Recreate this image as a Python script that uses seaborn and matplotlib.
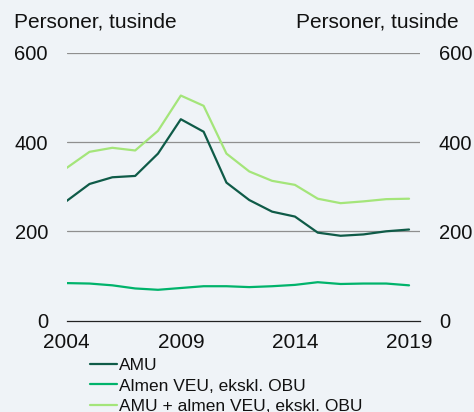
import pandas as pd
import numpy as np
import matplotlib
matplotlib.use('Agg')
import matplotlib.pyplot as plt
import seaborn as sns

years = list(range(2004, 2020))
amu = [268, 306, 321, 324, 374, 451, 423, 309, 270, 244, 233, 197, 190, 193, 200, 204]
almen_veu = [84, 83, 79, 72, 69, 73, 77, 77, 75, 77, 80, 86, 82, 83, 83, 79]
amu_plus_veu = [342, 378, 387, 381, 425, 504, 481, 374, 334, 313, 304, 273, 263, 267, 272, 273]

series_names = ['AMU', 'Almen VEU, ekskl. OBU', 'AMU + almen VEU, ekskl. OBU']
colors = ['#0f5b48', '#00b36b', '#a4e57a']
y_ticks = [0, 200, 400, 600]
x_ticks = [2004, 2009, 2014, 2019]
unit_label = 'Personer, tusinde'

df = pd.DataFrame({'year': years * 3,
                   'value': amu + almen_veu + amu_plus_veu,
                   'series': [series_names[0]] * 16 + [series_names[1]] * 16 + [series_names[2]] * 16})

bg = '#eff3f7'
sns.set_style('white')
plt.rcParams['font.family'] = ['Liberation Sans', 'DejaVu Sans']

fig = plt.figure(figsize=(4.74, 4.12), dpi=100, facecolor=bg)
ax = fig.add_axes([66.7 / 474, 1 - 320.6 / 412, (420 - 66.7) / 474, (320.6 - 52.7) / 412])
ax.set_facecolor(bg)

sns.lineplot(data=df, x='year', y='value', hue='series', palette=colors,
             hue_order=series_names, linewidth=1.6, ax=ax)

ax.set_xlim(2004, 2019.48)
ax.set_ylim(0, 600)
ax.set_yticks(y_ticks)
ax.set_xticks(x_ticks)
ax.set_xlabel('')
ax.set_ylabel('')
for y in y_ticks[1:]:
    ax.axhline(y, color='#8f8f8f', linewidth=0.9, zorder=0)
for s in ['top', 'left', 'right']:
    ax.spines[s].set_visible(False)
ax.spines['bottom'].set_color('#222222')
ax.spines['bottom'].set_linewidth(0.9)
ax.tick_params(axis='y', length=0, labelright=True, pad=13.5, labelsize=14.5, colors='#111111')
ax.tick_params(axis='x', length=5, width=1, color='#777777', pad=4, labelsize=15, labelcolor='#111111')

fig.text(14 / 474, 1 - 22 / 412, unit_label, fontsize=15, va='center', ha='left', color='#111111')
fig.text(459 / 474, 1 - 22 / 412, unit_label, fontsize=15, va='center', ha='right', color='#111111')

leg = ax.legend(loc='upper left', bbox_to_anchor=(90 / 474, 1 - 358 / 412), bbox_transform=fig.transFigure,
                frameon=False, fontsize=12.5, handlelength=1.55, handletextpad=0.12,
                labelspacing=0.3, borderaxespad=0, borderpad=0)
for t in leg.get_texts():
    t.set_color('#111111')

fig.savefig('out.png', dpi=100, facecolor=bg)
